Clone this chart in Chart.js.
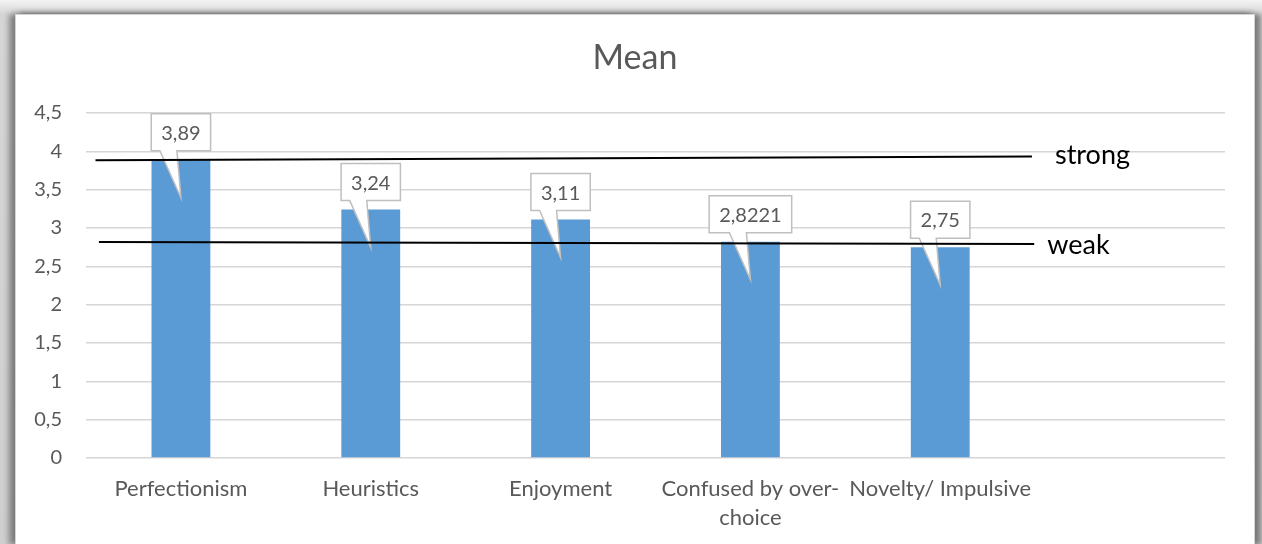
<!DOCTYPE html>
<html>
<head>
<meta charset="utf-8">
<script src="https://cdn.jsdelivr.net/npm/chart.js@4.4.1/dist/chart.umd.min.js"></script>
<style>
  html, body { margin: 0; padding: 0; }
  body { width: 1262px; height: 544px; overflow: hidden; position: relative;
         background: linear-gradient(#f4f4f4, #d6d6d6 14px, #cfcfcf); }
  #chart { position: absolute; left: 16px; top: 15px; background: #fff;
           outline: 1px solid #d4d4d4;
           box-shadow: -6px 0 6px 1px rgba(0,0,0,0.38), 6px 0 5px 1px rgba(0,0,0,0.38), 0 -3px 6px rgba(0,0,0,0.15); }
</style>
</head>
<body>
<canvas id="chart" width="1238" height="529"></canvas>
<script>
// data
const categories = ['Perfectionism', 'Heuristics', 'Enjoyment', ['Confused by over-', 'choice'], 'Novelty/ Impulsive', ''];
const meanValues = [3.89, 3.24, 3.11, 2.8221, 2.75];
const strongLine = [{x: -0.45, y: 3.883}, {x: 4.483, y: 3.933}];
const weakLine = [{x: -0.432, y: 2.818}, {x: 4.495, y: 2.792}];
const lineNames = ['strong', 'weak'];

const grey = '#595959';
Chart.defaults.font.family = 'Lato';
Chart.defaults.color = grey;

function comma(v) {
    return String(v).replace('.', ',');
}

// white callout boxes above each bar
const callouts = {
    id: 'callouts',
    afterDatasetDraw(chart, args) {
        if (args.index !== 0) return;
        let ctx = chart.ctx;
        ctx.save();
        ctx.font = '20px Lato';
        ctx.lineWidth = 1.5;
        ctx.strokeStyle = '#bfbfbf';
        args.meta.data.forEach(function(bar, i) {
            let text = comma(meanValues[i]);
            let w = ctx.measureText(text).width + 20;
            let h = 37;
            let cx = bar.x;
            let bx = cx - w / 2;
            let by = bar.y - 9 - h;
            ctx.beginPath();
            ctx.moveTo(bx, by);
            ctx.lineTo(bx + w, by);
            ctx.lineTo(bx + w, by + h);
            ctx.lineTo(cx - 4, by + h);
            ctx.lineTo(cx, bar.y + 38);
            ctx.lineTo(cx - 21, by + h);
            ctx.lineTo(bx, by + h);
            ctx.closePath();
            ctx.fillStyle = '#ffffff';
            ctx.fill();
            ctx.stroke();
            ctx.fillStyle = grey;
            ctx.textAlign = 'center';
            ctx.textBaseline = 'middle';
            ctx.fillText(text, cx, by + h / 2 + 1);
        });
        ctx.restore();
    }
};

// "strong" / "weak" next to the end of each line
const lineLabels = {
    id: 'lineLabels',
    afterDraw(chart) {
        let ctx = chart.ctx;
        let shift = [[23, 8], [13, 10]];
        ctx.save();
        ctx.font = '27px Lato';
        ctx.fillStyle = '#000000';
        ctx.textAlign = 'left';
        ctx.textBaseline = 'alphabetic';
        for (let i = 0; i < lineNames.length; i++) {
            let pts = chart.getDatasetMeta(i + 1).data;
            let end = pts[pts.length - 1];
            ctx.fillText(lineNames[i], end.x + shift[i][0], end.y + shift[i][1]);
        }
        ctx.restore();
    }
};

new Chart(document.getElementById('chart'), {
    type: 'bar',
    data: {
        labels: categories,
        datasets: [{
            data: meanValues,
            backgroundColor: '#5b9bd5',
            barPercentage: 0.31,
            categoryPercentage: 1,
            order: 2
        }, {
            type: 'line',
            data: strongLine,
            parsing: false,
            borderColor: '#000000',
            borderWidth: 2,
            pointRadius: 0,
            order: 1
        }, {
            type: 'line',
            data: weakLine,
            parsing: false,
            borderColor: '#000000',
            borderWidth: 2,
            pointRadius: 0,
            order: 1
        }]
    },
    options: {
        responsive: false,
        animation: false,
        layout: { padding: 0 },
        plugins: {
            legend: { display: false },
            tooltip: { enabled: false },
            title: {
                display: true,
                text: 'Mean',
                color: grey,
                font: { size: 34, weight: 'normal' },
                padding: { top: 22.6, bottom: 34.6 }
            }
        },
        scales: {
            x: {
                grid: { display: false },
                border: { display: false },
                ticks: {
                    color: grey,
                    font: { size: 22, lineHeight: 1.3 },
                    padding: 9,
                    maxRotation: 0,
                    autoSkip: false
                },
                afterFit: function(scale) { scale.height = 86; }
            },
            y: {
                min: 0,
                max: 4.5,
                grid: { color: '#d6d6d6', lineWidth: 1.5, drawTicks: false },
                border: { display: false },
                ticks: {
                    stepSize: 0.5,
                    color: grey,
                    font: { size: 20 },
                    padding: 24,
                    callback: function(v) { return comma(v); }
                },
                afterFit: function(scale) { scale.width = 70; }
            },
            // empty right margin so the title stays centred on the whole panel
            yRight: {
                position: 'right',
                grid: { display: false },
                border: { display: false },
                ticks: { display: false },
                afterFit: function(scale) { scale.width = 29; }
            }
        }
    },
    plugins: [callouts, lineLabels]
});
</script>
</body>
</html>
